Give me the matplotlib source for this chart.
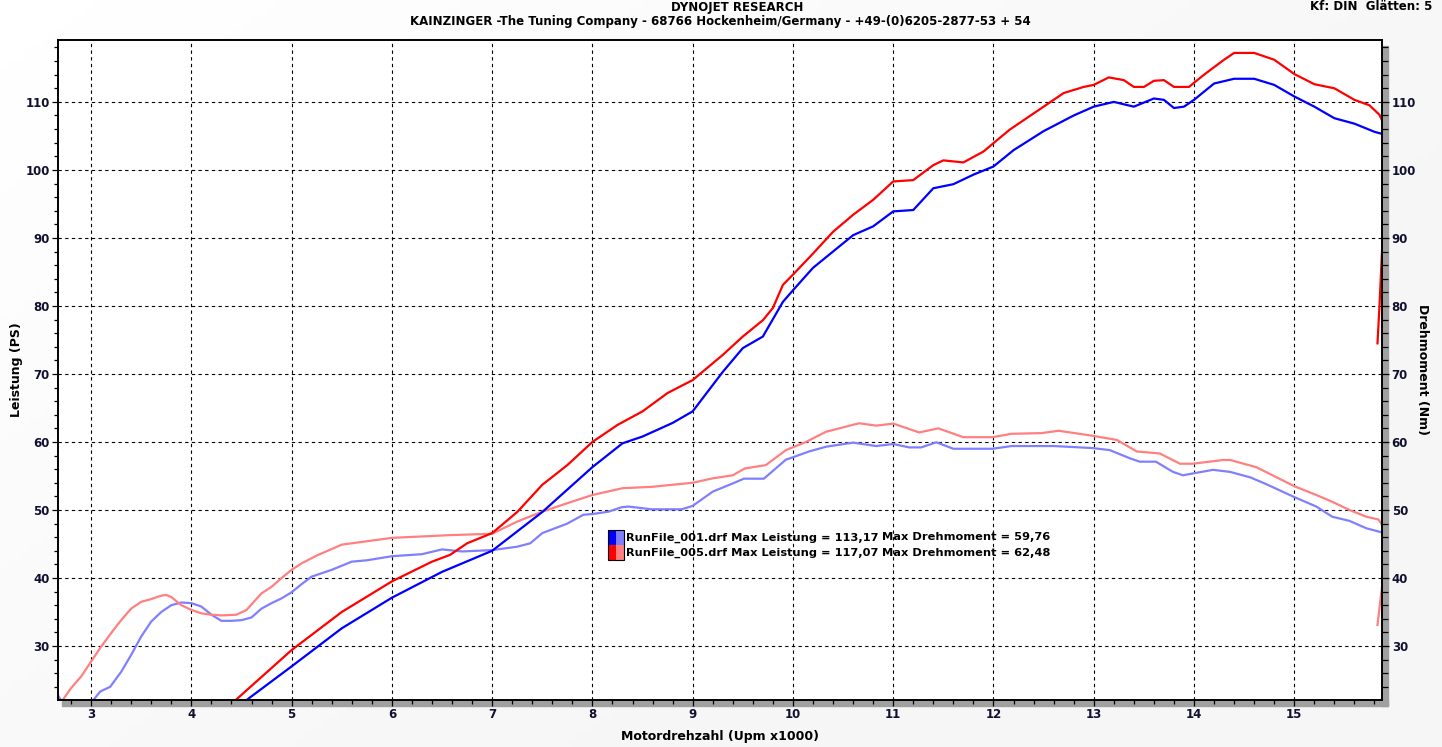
import numpy as np
import matplotlib.pyplot as plt
from matplotlib.patches import Rectangle
from matplotlib.ticker import MultipleLocator

# Leistung (PS) - RunFile_001 (blau) und RunFile_005 (rot)
rpm_p1 = [4.50, 5.0, 5.5, 6.0, 6.5, 7.0, 7.5, 8.0, 8.3, 8.5, 8.8, 9.0, 9.3, 9.5, 9.7, 9.9,
          10.0, 10.2, 10.4, 10.6, 10.8, 11.0, 11.2, 11.4, 11.6, 11.8, 12.0, 12.2, 12.5, 12.8,
          13.0, 13.2, 13.4, 13.6, 13.7, 13.8, 13.9, 14.0, 14.2, 14.4, 14.6, 14.8, 15.0, 15.2,
          15.4, 15.6, 15.8, 15.875]
ps_1 = [21.5, 27.0, 32.6, 37.1, 40.9, 44.0, 49.7, 56.3, 59.8, 60.8, 62.8, 64.5, 70.3, 73.8, 75.5, 80.6,
        82.3, 85.6, 88.0, 90.4, 91.7, 93.9, 94.1, 97.3, 97.9, 99.3, 100.5, 102.9, 105.7, 108.0,
        109.3, 110.0, 109.3, 110.5, 110.3, 109.1, 109.3, 110.3, 112.7, 113.4, 113.4, 112.5, 110.8, 109.3,
        107.6, 106.8, 105.6, 105.3]

rpm_p5 = [4.40, 5.0, 5.5, 6.0, 6.4, 6.58, 6.75, 7.0, 7.25, 7.5, 7.75, 8.0, 8.25, 8.5, 8.75, 9.0,
          9.3, 9.5, 9.7, 9.8, 9.9, 10.0, 10.2, 10.4, 10.6, 10.8, 11.0, 11.2, 11.4, 11.5, 11.7,
          11.9, 12.16, 12.5, 12.7, 12.9, 13.0, 13.15, 13.3, 13.4, 13.5, 13.6, 13.7, 13.8, 13.95,
          14.1, 14.3, 14.4, 14.6, 14.8, 15.0, 15.2, 15.4, 15.6, 15.75, 15.85, 15.875, 15.92,
          15.875, 15.85, 15.83]
ps_5 = [21.5, 29.4, 35.0, 39.5, 42.4, 43.4, 45.1, 46.6, 49.7, 53.7, 56.6, 60.0, 62.5, 64.5, 67.2, 69.1,
        72.8, 75.5, 77.9, 79.7, 83.1, 84.6, 87.7, 90.9, 93.4, 95.6, 98.3, 98.5, 100.7, 101.4, 101.1,
        102.7, 105.9, 109.3, 111.3, 112.2, 112.5, 113.6, 113.2, 112.2, 112.2, 113.1, 113.2, 112.2, 112.2,
        114.0, 116.2, 117.2, 117.2, 116.2, 114.1, 112.6, 112.0, 110.3, 109.5, 108.1, 107.3, 97.0,
        88.0, 80.0, 74.5]

# Drehmoment (Nm)
rpm_t1 = [2.66, 2.72, 2.98, 3.02, 3.09, 3.19, 3.3, 3.4, 3.5, 3.6, 3.7, 3.8, 3.9, 4.0, 4.1, 4.2,
          4.3, 4.4, 4.5, 4.6, 4.7, 4.8, 4.9, 5.0, 5.1, 5.2, 5.3, 5.4, 5.5, 5.6, 5.75, 6.0, 6.3,
          6.5, 6.7, 7.0, 7.25, 7.38, 7.5, 7.75, 7.91, 8.0, 8.16, 8.29, 8.36, 8.59, 8.89, 9.0,
          9.2, 9.4, 9.51, 9.71, 9.93, 10.0, 10.16, 10.33, 10.6, 10.83, 11.0, 11.16, 11.28, 11.43,
          11.6, 11.99, 12.18, 12.6, 12.99, 13.16, 13.36, 13.46, 13.62, 13.79, 13.89, 14.0, 14.19,
          14.36, 14.56, 14.72, 15.0, 15.22, 15.38, 15.55, 15.72, 15.85, 15.875]
nm_1 = [23.0, 21.5, 21.5, 22.0, 23.3, 24.0, 26.2, 28.7, 31.4, 33.6, 35.0, 36.0, 36.4, 36.3, 35.8, 34.6,
        33.7, 33.7, 33.8, 34.2, 35.5, 36.3, 37.0, 37.9, 39.1, 40.2, 40.7, 41.2, 41.8, 42.4, 42.6, 43.2, 43.5,
        44.2, 43.9, 44.1, 44.6, 45.1, 46.6, 48.0, 49.3, 49.4, 49.75, 50.4, 50.5, 50.1, 50.1, 50.6,
        52.7, 53.9, 54.6, 54.6, 57.4, 57.75, 58.6, 59.3, 59.9, 59.4, 59.7, 59.2, 59.2, 59.95,
        59.0, 59.0, 59.4, 59.4, 59.1, 58.8, 57.6, 57.1, 57.1, 55.6, 55.1, 55.4, 55.9,
        55.6, 54.8, 53.8, 51.9, 50.5, 49.0, 48.4, 47.3, 46.8, 46.7]

rpm_t5 = [2.69, 2.8, 2.9, 3.0, 3.1, 3.2, 3.3, 3.4, 3.5, 3.6, 3.7, 3.75, 3.8, 3.9, 4.0, 4.1, 4.2,
          4.3, 4.45, 4.55, 4.7, 4.8, 4.9, 5.0, 5.1, 5.25, 5.5, 6.0, 6.58, 7.0, 7.25, 7.5, 7.75,
          8.0, 8.3, 8.59, 9.0, 9.2, 9.4, 9.52, 9.73, 9.93, 10.13, 10.33, 10.66, 10.83, 11.0,
          11.26, 11.45, 11.7, 11.99, 12.18, 12.48, 12.65, 12.97, 13.23, 13.43, 13.66, 13.86,
          13.99, 14.29, 14.36, 14.62, 15.0, 15.22, 15.38, 15.55, 15.72, 15.84, 15.875, 15.92,
          15.875, 15.83]
nm_5 = [21.5, 23.8, 25.5, 27.7, 29.9, 31.9, 33.8, 35.5, 36.5, 36.9, 37.4, 37.5, 37.2, 36.0, 35.3, 34.8, 34.6,
        34.5, 34.6, 35.3, 37.75, 38.7, 40.0, 41.2, 42.15, 43.3, 44.9, 45.9, 46.3, 46.5, 48.3, 49.75, 51.0,
        52.2, 53.2, 53.4, 54.0, 54.65, 55.1, 56.1, 56.6, 58.8, 60.0, 61.5, 62.75, 62.4, 62.7,
        61.4, 62.0, 60.7, 60.7, 61.2, 61.3, 61.65, 60.95, 60.3, 58.6, 58.3, 56.8,
        56.8, 57.35, 57.35, 56.3, 53.5, 52.2, 51.2, 50.0, 49.0, 48.6, 47.8, 43.0,
        38.7, 33.1]

legend_rows = [
    ("RunFile_001.drf Max Leistung = 113,17", "Max Drehmoment = 59,76", "#0000ff", "#8080ff"),
    ("RunFile_005.drf Max Leistung = 117,07", "Max Drehmoment = 62,48", "#ff0000", "#ff8080"),
]

W, H = 1442, 747
fig = plt.figure(figsize=(W / 100, H / 100), dpi=100)
fig.patch.set_facecolor("#f0f0f0")

# leichter Verlauf im Hintergrund
bg = fig.add_axes([0, 0, 1, 1], zorder=-5)
gx, gy = np.meshgrid(np.linspace(0, 1, 200), np.linspace(0, 1, 100))
grad = np.clip(1 - (gx * 0.8 + gy * 0.6), 0, 1)
bg.imshow(grad, cmap="Greys_r", vmin=-12, vmax=1.0, aspect="auto", extent=[0, 1, 0, 1], origin="upper")
bg.set_axis_off()

L, R, T, B = 58, 1382, 40, 700
ax = fig.add_axes([L / W, 1 - B / H, (R - L) / W, (B - T) / H])

# Schatten rechts und unten
fig.patches.append(Rectangle((R / W, 1 - 706 / H), 6 / W, (706 - 46) / H,
                             transform=fig.transFigure, color="#a0a0a0", zorder=-1))
fig.patches.append(Rectangle((62 / W, 1 - 706 / H), (R + 6 - 62) / W, 6 / H,
                             transform=fig.transFigure, color="#a0a0a0", zorder=-1))

ax.plot(rpm_t1, nm_1, color="#8080ff", lw=1.6)
ax.plot(rpm_t5, nm_5, color="#ff8080", lw=1.6)
ax.plot(rpm_p1, ps_1, color="#0000ff", lw=1.6)
ax.plot(rpm_p5, ps_5, color="#ff0000", lw=1.6)

ax.set_xlim(2.67, 15.875)
ax.set_ylim(22.06, 119.1)
ax.xaxis.set_major_locator(MultipleLocator(1))
ax.xaxis.set_minor_locator(MultipleLocator(0.2))
ax.yaxis.set_major_locator(MultipleLocator(10))
ax.yaxis.set_minor_locator(MultipleLocator(2))
ax.grid(True, which="major", color="black", linestyle=(0, (3, 3)), linewidth=0.8)

tick_font = dict(fontsize=8.5, fontweight="bold", color="#101030")
ax.tick_params(which="major", direction="out", length=4, width=0.9, pad=2)
ax.tick_params(which="minor", direction="out", length=3, width=0.9)
ax.set_xticks(range(3, 16))
ax.set_xticklabels([str(v) for v in range(3, 16)], **tick_font)
ax.set_yticks(range(30, 111, 10))
ax.set_yticklabels([str(v) for v in range(30, 111, 10)], **tick_font)

ax2 = ax.twinx()
ax2.set_ylim(ax.get_ylim())
ax2.yaxis.set_major_locator(MultipleLocator(10))
ax2.yaxis.set_minor_locator(MultipleLocator(2))
ax2.tick_params(which="major", direction="out", length=5, width=0.9, pad=2)
ax2.tick_params(which="minor", direction="out", length=4, width=0.9)
ax2.set_yticks(range(30, 111, 10))
ax2.set_yticklabels([str(v) for v in range(30, 111, 10)], **tick_font)

for a in (ax, ax2):
    for s in a.spines.values():
        s.set_linewidth(1.2)

ax.set_xlabel("Motordrehzahl (Upm x1000)", fontsize=9, fontweight="bold", labelpad=6)
fig.text(17 / W, 1 - 370 / H, "Leistung (PS)", rotation=90, ha="center", va="center",
         fontsize=9, fontweight="bold")
fig.text(1423 / W, 1 - 370 / H, "Drehmoment (Nm)", rotation=-90, ha="center", va="center",
         fontsize=9, fontweight="bold")

# Legende
for i, (txt1, txt2, c_dark, c_light) in enumerate(legend_rows):
    y0 = 530 + i * 15
    ax.add_patch(Rectangle(((608 - L) / (R - L), 1 - (y0 + 15 - T) / (B - T)),
                           8 / (R - L), 15 / (B - T), transform=ax.transAxes,
                           facecolor=c_dark, edgecolor="none", zorder=5))
    ax.add_patch(Rectangle(((616 - L) / (R - L), 1 - (y0 + 15 - T) / (B - T)),
                           8 / (R - L), 15 / (B - T), transform=ax.transAxes,
                           facecolor=c_light, edgecolor="none", zorder=5))
    ax.text((626 - L) / (R - L), 1 - (y0 + 7.5 - T) / (B - T), txt1, transform=ax.transAxes,
            fontsize=8.2, fontweight="bold", va="center", ha="left", zorder=6)
    ax.text((882 - L) / (R - L), 1 - (y0 + 7.5 - T) / (B - T), txt2, transform=ax.transAxes,
            fontsize=8.2, fontweight="bold", va="center", ha="left", zorder=6)
ax.add_patch(Rectangle(((608 - L) / (R - L), 1 - (560 - T) / (B - T)), 16 / (R - L), 30 / (B - T),
                       transform=ax.transAxes, facecolor="none", edgecolor="black", lw=0.8, zorder=6))

# Kopfzeilen
fig.text(737 / W, 1 - 7 / H, "DYNOJET RESEARCH", ha="center", va="center",
         fontsize=8.5, fontweight="bold")
fig.text(720 / W, 1 - 21 / H,
         "KAINZINGER -The Tuning Company - 68766 Hockenheim/Germany - +49-(0)6205-2877-53 + 54",
         ha="center", va="center", fontsize=8.5, fontweight="bold")
fig.text(1432 / W, 1 - 7 / H, "Kf: DIN  Glätten: 5", ha="right", va="center",
         fontsize=8.5, fontweight="bold")

fig.savefig("out.png", dpi=100, facecolor=fig.get_facecolor())
